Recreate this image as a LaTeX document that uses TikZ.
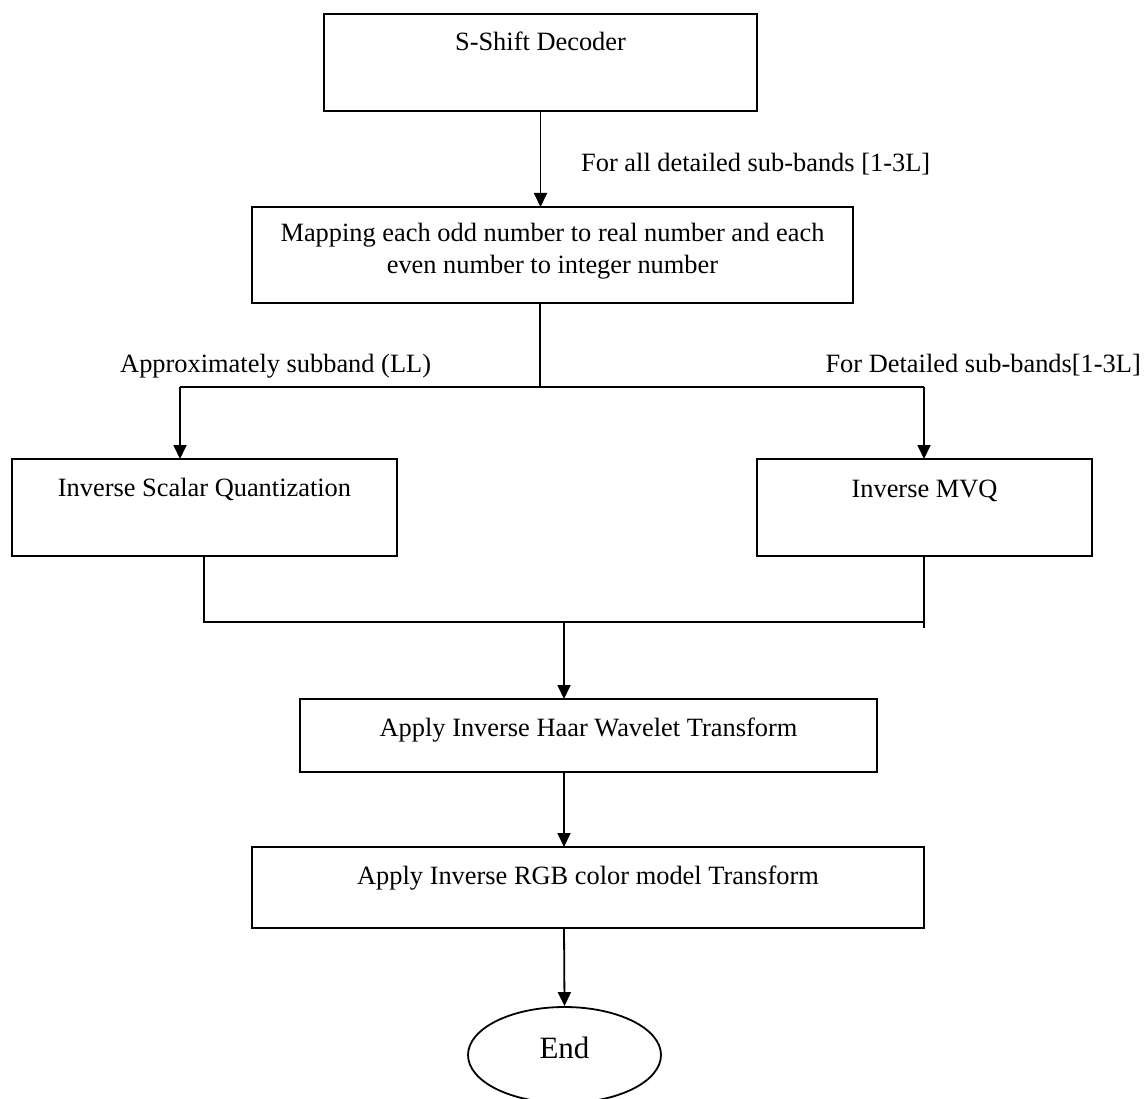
\documentclass[tikz,border=0pt]{standalone}
\usepackage{fontspec}
\setmainfont{Liberation Serif}
\usetikzlibrary{arrows.meta,shapes.geometric}
\begin{document}
\begin{tikzpicture}[x=1pt,y=-1pt,
  box/.style={draw, line width=1.8pt, inner sep=0pt, outer sep=0pt},
  txt/.style={inner sep=0pt, font=\fontsize{26.4}{32}\selectfont},
  ln/.style={line width=1.8pt},
  arr/.style={line width=1.8pt, -{Triangle[length=14pt,width=13pt]}}]
\useasboundingbox (0,0) rectangle (1145,1099);
\fill[white] (0,0) rectangle (1145,1099);

% boxes
\node[box, minimum width=433pt, minimum height=97pt] (b1) at (540.5,62.5) {};
\node[box, minimum width=601pt, minimum height=96pt] (b2) at (552.5,255) {};
\node[box, minimum width=385pt, minimum height=97pt] (b3) at (204.5,507.5) {};
\node[box, minimum width=335pt, minimum height=97pt] (b4) at (924.5,507.5) {};
\node[box, minimum width=577pt, minimum height=73pt] (b5) at (588.5,735.5) {};
\node[box, minimum width=672pt, minimum height=81pt] (b6) at (588,887.5) {};
\node[draw, ellipse, line width=1.8pt, inner sep=0pt, minimum width=193pt, minimum height=96pt,
  label={[name=endt, inner sep=0pt, font=\fontsize{31}{36}\selectfont, yshift=7pt]center:End}] (end) at (564.5,1055) {};

% box texts
\node[txt, anchor=base] (t1) at (540.5,51) {S-Shift Decoder};
\node[txt, align=center] (t2) at (552.5,251) {Mapping each odd number to real number and each\\even number to integer number};
\node[txt, anchor=base] (t3) at (204.5,496) {Inverse Scalar Quantization};
\node[txt, anchor=base] (t4) at (924.5,497) {Inverse MVQ};
\node[txt, anchor=base] (t5) at (588.5,736) {Apply Inverse Haar Wavelet Transform};
\node[txt, anchor=base] (t6) at (588,884) {Apply Inverse RGB color model Transform};

% connector labels
\node[txt, anchor=base west] (l1) at (581,172) {For all detailed sub-bands [1-3L]};
\node[txt, anchor=base west] (l2) at (120,372) {Approximately subband (LL)};
\node[txt, anchor=base east] (l3) at (1141,372) {For Detailed sub-bands[1-3L]};

% junction points
\coordinate (jm) at (540,387);
\coordinate (jl) at (180,387);
\coordinate (jr) at (924,387);
\coordinate (kl) at (204,622);
\coordinate (km) at (564,622);
\coordinate (kr) at (924,622);
\coordinate (krx) at (924,628);

% connectors
\draw[arr] (b1.south) -- (b1.south |- b2.north);
\draw[ln] (b2.south -| jm) -- (jm);
\draw[ln] (jl) -- (jr);
\draw[arr] (jl) -- (jl |- b3.north);
\draw[arr] (jr) -- (jr |- b4.north);
\draw[ln] (b3.south -| kl) -- (kl) -- (kr);
\draw[ln] (b4.south -| kr) -- (krx);
\draw[arr] (km) -- (km |- b5.north);
\draw[arr] (b5.south -| km) -- (b6.north -| km);
\draw[arr] (b6.south -| km) -- (end.north);
\end{tikzpicture}
\end{document}
